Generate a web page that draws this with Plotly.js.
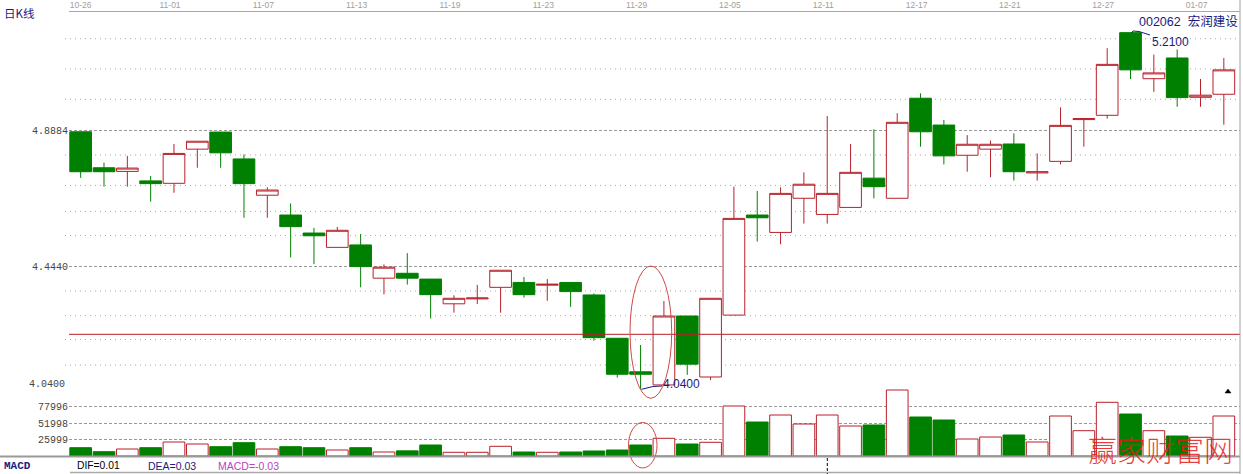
<!DOCTYPE html>
<html><head><meta charset="utf-8">
<script src="https://cdn.plot.ly/plotly-3.0.1.min.js"></script>
<style>html,body{margin:0;padding:0;background:#fff;}#chart{width:1243px;height:474px;}</style>
</head><body><div id="chart"></div>
<script>
// ---- data ----
const dates = ['10-26','10-29','10-30','10-31','11-01','11-02','11-05','11-06','11-07','11-08',
  '11-09','11-12','11-13','11-14','11-15','11-16','11-19','11-20','11-21','11-22',
  '11-23','11-26','11-27','11-28','11-29','11-30','12-03','12-04','12-05','12-06',
  '12-07','12-10','12-11','12-12','12-13','12-14','12-17','12-18','12-19','12-20',
  '12-21','12-24','12-25','12-26','12-27','12-28','12-31','01-04','01-07','01-08'];
const openP  = [4.885,4.767,4.755,4.724,4.716,4.828,4.884,4.796,4.677,4.612,4.553,4.506,4.514,4.405,4.421,4.402,4.321,4.337,4.375,4.391,4.382,4.391,4.350,4.208,4.098,4.055,4.281,4.081,4.284,4.612,4.555,4.667,4.614,4.637,4.733,4.667,4.995,4.907,4.808,4.828,4.845,4.750,4.788,4.925,4.939,5.210,5.059,5.127,4.998,5.008];
const highP  = [4.885,4.784,4.806,4.740,4.845,4.854,4.884,4.811,4.703,4.650,4.570,4.573,4.550,4.450,4.487,4.402,4.349,4.383,4.431,4.409,4.402,4.391,4.355,4.208,4.186,4.330,4.281,4.339,4.705,4.691,4.703,4.752,4.937,4.845,4.893,4.946,5.011,4.924,4.874,4.856,4.880,4.814,4.965,4.928,5.159,5.210,5.138,5.155,5.058,5.127];
const lowP   = [4.734,4.705,4.705,4.656,4.685,4.767,4.767,4.603,4.603,4.473,4.451,4.506,4.375,4.352,4.384,4.273,4.292,4.320,4.292,4.341,4.331,4.311,4.200,4.079,4.040,4.055,4.088,4.071,4.284,4.525,4.516,4.584,4.584,4.637,4.667,4.667,4.836,4.778,4.754,4.736,4.725,4.725,4.778,4.836,4.928,5.058,5.016,4.967,4.967,4.908];
const closeP = [4.754,4.754,4.766,4.715,4.814,4.854,4.816,4.715,4.694,4.574,4.544,4.562,4.443,4.441,4.405,4.351,4.339,4.340,4.431,4.351,4.385,4.361,4.210,4.090,4.090,4.281,4.123,4.339,4.601,4.603,4.683,4.713,4.683,4.752,4.705,4.916,4.885,4.806,4.844,4.844,4.754,4.754,4.906,4.928,5.106,5.088,5.078,4.997,5.005,5.088];
const volume = [13200,6840,11130,13200,22260,19080,14790,21150,11130,14790,13200,9540,13200,6360,8200,17490,5880,5880,15420,6360,5880,6360,7950,9540,17490,28140,19080,21780,79500,54060,65190,50880,65190,47700,49290,104940,62010,57240,27030,30210,33390,22260,63600,40230,85380,66780,40230,31800,29730,63600];
const dateTickIdx = [0,4,8,12,16,20,24,28,32,36,40,44,48];
const priceTicks = [4.04, 4.444, 4.8884];
const priceTickText = ['', '4.4440', '4.8884'];
const lowLabel = '4.0400';
const volTicks = [25999, 51998, 77996];
const volTickText = ['25999', '51998', '77996'];
const dotGrid = [4.120, 4.204, 4.282, 4.363, 4.545, 4.624, 4.709, 4.809, 4.9915, 5.091, 5.190];
const refLine = 4.221;
const maxLabel = '5.2100';
const minLabel = '4.0400';
const stockLabel = '002062  宏润建设';
const macdTexts = ['DIF=0.01', 'DEA=0.03', 'MACD=-0.03'];

// ---- geometry / style ----
const L = 69, R = 1240, T = 12, B = 456;
const px = x => (x - L) / (R - L);
const py = y => (B - y) / (B - T);
const PITCH = 23.33;
const PRICE_PX = 305, P0 = 4.04, P0_Y = 389.5;
const VOL_PX = 16.35 / 25999;
const RED = '#b8202a', GREEN = '#008000', NAVY = '#1a1a80';

const idx = dates.map((d, i) => i);
const up = idx.map(i => closeP[i] >= openP[i]);

const candle = {
  type: 'candlestick', x: idx, open: openP, high: highP, low: lowP, close: closeP,
  xaxis: 'x', yaxis: 'y',
  increasing: {line: {color: RED, width: 1}, fillcolor: '#ffffff'},
  decreasing: {line: {color: GREEN, width: 1}, fillcolor: GREEN},
  whiskerwidth: 0, hoverinfo: 'skip', showlegend: false
};
const bars = {
  type: 'bar', x: idx, y: volume, xaxis: 'x', yaxis: 'y2',
  marker: {color: up.map(u => u ? '#ffffff' : GREEN), line: {color: up.map(u => u ? RED : GREEN), width: 1}},
  hoverinfo: 'skip', showlegend: false
};

const shapes = [];
dotGrid.forEach(v => shapes.push({type: 'line', xref: 'paper', yref: 'y', x0: px(65), x1: 1, y0: v, y1: v,
  line: {color: '#a8a8a8', width: 1, dash: '1px,4px'}, layer: 'below'}));
shapes.push({type: 'line', xref: 'paper', yref: 'y', x0: 0, x1: 1, y0: refLine, y1: refLine,
  line: {color: RED, width: 1}, layer: 'above'});
shapes.push({type: 'circle', xref: 'paper', yref: 'paper', x0: px(630), x1: px(671.7), y0: py(398.3), y1: py(266),
  line: {color: '#d04848', width: 1}});
shapes.push({type: 'circle', xref: 'paper', yref: 'paper', x0: px(628.5), x1: px(657), y0: py(468), y1: py(422.5),
  line: {color: '#d04848', width: 1}});
const path = pts => 'M' + pts.map(p => px(p[0]) + ',' + py(p[1])).join('L');
shapes.push({type: 'path', xref: 'paper', yref: 'paper', path: path([[1131.5, 33], [1133, 31], [1139, 31.5], [1150, 35]]),
  line: {color: NAVY, width: 1}});
shapes.push({type: 'path', xref: 'paper', yref: 'paper', path: path([[641.5, 389.3], [653, 386.5], [662, 386]]),
  line: {color: NAVY, width: 1}});
shapes.push({type: 'line', xref: 'paper', yref: 'paper', x0: px(0), x1: px(1240), y0: py(456.5), y1: py(456.5),
  line: {color: '#999999', width: 2}});
shapes.push({type: 'line', xref: 'paper', yref: 'paper', x0: px(70), x1: px(1240), y0: py(472.5), y1: py(472.5),
  line: {color: '#aaaaaa', width: 1.5}});
shapes.push({type: 'line', xref: 'paper', yref: 'paper', x0: px(1240), x1: px(1240), y0: py(0), y1: py(474),
  line: {color: '#a0a0a0', width: 1}});
shapes.push({type: 'line', xref: 'paper', yref: 'paper', x0: px(827.3), x1: px(827.3), y0: py(458), y1: py(474),
  line: {color: '#000000', width: 1, dash: '3px,2px'}});
shapes.push({type: 'path', xref: 'paper', yref: 'paper', path: path([[1225, 393], [1231, 393], [1228, 389]]) + 'Z',
  fillcolor: '#000000', line: {color: '#000000', width: 0.5}});

const ann = (text, x, y, anchor, font) => ({text, x: px(x), y: py(y), xref: 'paper', yref: 'paper',
  xanchor: anchor, yanchor: 'middle', showarrow: false, font, borderpad: 0});
const annotations = [
  ann('日K线', 19, 12.5, 'center', {family: 'Noto Sans CJK SC', size: 11.5, color: NAVY}),
  ann(lowLabel, 66, 384.5, 'right', {family: 'Liberation Mono', size: 10, color: '#444444'}),
  ann(stockLabel, 1188.5, 21, 'center', {family: 'Liberation Sans, Noto Sans CJK SC', size: 12.5, color: NAVY}),
  ann(maxLabel, 1170.5, 42, 'center', {family: 'Liberation Sans', size: 12, color: NAVY}),
  ann(minLabel, 681, 384, 'center', {family: 'Liberation Sans', size: 12, color: NAVY}),
  ann('MACD', 3, 465.5, 'left', {family: 'Liberation Mono', size: 11, color: NAVY, weight: 'bold'}),
  ann(macdTexts[0], 76, 465.5, 'left', {family: 'Liberation Sans', size: 10.3, color: '#000000'}),
  ann(macdTexts[1], 147, 465.5, 'left', {family: 'Liberation Sans', size: 10.5, color: NAVY}),
  ann(macdTexts[2], 217, 465.5, 'left', {family: 'Liberation Sans', size: 10.5, color: '#c040c0'}),
  ann('赢家财富网', 1160, 449, 'center', {family: 'Noto Sans CJK SC', size: 29, weight: 300, color: 'rgba(230,25,25,0.85)'})
];

const layout = {
  width: 1243, height: 474,
  margin: {l: L, r: 1243 - R, t: T, b: 474 - B, pad: 0},
  paper_bgcolor: '#ffffff', plot_bgcolor: '#ffffff',
  showlegend: false, boxgap: 0.07, boxgroupgap: 0, bargap: 0.07,
  xaxis: {type: 'linear', range: [-0.5, -0.5 + (R - L) / PITCH], side: 'top', anchor: 'y',
    tickvals: dateTickIdx.map(i => i === 0 ? 0 : i - 0.17), ticktext: dateTickIdx.map(i => dates[i]),
    tickfont: {family: 'Liberation Sans', size: 8.5, color: '#a0a0a0'}, ticks: '',
    showgrid: false, zeroline: false, showline: true, linecolor: '#a8a8a8', linewidth: 1,
    rangeslider: {visible: false}, fixedrange: true},
  yaxis: {domain: [0, 1], range: [P0 - (B - P0_Y) / PRICE_PX, P0 + (P0_Y - T) / PRICE_PX],
    tickvals: priceTicks, ticktext: priceTickText, ticks: '',
    tickfont: {family: 'Liberation Mono', size: 10, color: '#444444'},
    showgrid: true, gridcolor: '#9a9a9a', griddash: '3px,2px', gridwidth: 1,
    zeroline: false, showline: false, fixedrange: true},
  yaxis2: {domain: [0, py(389)], range: [0, (B - 389) / VOL_PX], anchor: 'x',
    tickvals: volTicks, ticktext: volTickText, ticks: '',
    tickfont: {family: 'Liberation Mono', size: 10, color: '#444444'},
    showgrid: true, gridcolor: '#9a9a9a', griddash: '3px,2px', gridwidth: 1,
    zeroline: false, showline: false, fixedrange: true},
  shapes, annotations
};
Plotly.newPlot('chart', [bars, candle], layout, {displayModeBar: false, staticPlot: true});
</script></body></html>
